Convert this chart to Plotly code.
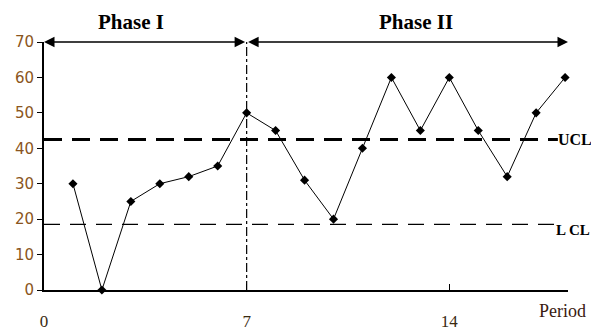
import plotly.graph_objects as go

periods = list(range(1, 19))
values = [30, 0, 25, 30, 32, 35, 50, 45, 31, 20, 40, 60, 45, 60, 45, 32, 50, 60]
ucl = 42.5
lcl = 18.5
phase_split = 7
x_end = 18.1
y_top = 70
y_ticks = [0, 10, 20, 30, 40, 50, 60, 70]
x_ticks = [0, 7, 14]
phase_labels = ["Phase I", "Phase II"]
phase_label_x = [3.0, 12.85]

# page has 8px body margin; figure is sized to fit the 599x330 window
W, H = 591, 322
L, R, T, B = 36, 31, 34, 40

fig = go.Figure()

fig.add_trace(go.Scatter(x=[0, 17.75], y=[ucl, ucl], mode="lines",
                         line=dict(color="black", width=3, dash="18px,10px"),
                         hoverinfo="skip", showlegend=False))
fig.add_trace(go.Scatter(x=[0, 17.8], y=[lcl, lcl], mode="lines",
                         line=dict(color="black", width=1.2, dash="16px,10px"),
                         hoverinfo="skip", showlegend=False))
fig.add_trace(go.Scatter(x=[phase_split, phase_split], y=[0, 77], mode="lines",
                         line=dict(color="black", width=1.2, dash="dashdot"),
                         hoverinfo="skip", showlegend=False, cliponaxis=False))
fig.add_trace(go.Scatter(x=periods, y=values, mode="lines+markers",
                         line=dict(color="black", width=1),
                         marker=dict(symbol="diamond", size=7, color="black"),
                         showlegend=False, cliponaxis=False))

serif = "Liberation Serif"
pw, ph = W - L - R, H - T - B
annotations = [
    dict(x=0, y=y_top, ax=phase_split, ay=y_top, xref="x", yref="y", axref="x", ayref="y",
         showarrow=True, arrowhead=2, arrowside="end+start", arrowsize=1.4, arrowwidth=1.5,
         arrowcolor="black", text=""),
    dict(x=x_end, y=y_top, ax=phase_split, ay=y_top, xref="x", yref="y", axref="x", ayref="y",
         showarrow=True, arrowhead=2, arrowside="end+start", arrowsize=1.4, arrowwidth=1.5,
         arrowcolor="black", text=""),
    dict(x=phase_label_x[0], y=y_top, xref="x", yref="y", yshift=20, text=f"<b>{phase_labels[0]}</b>",
         showarrow=False, font=dict(family=serif, size=21, color="black")),
    dict(x=phase_label_x[1], y=y_top, xref="x", yref="y", yshift=20, text=f"<b>{phase_labels[1]}</b>",
         showarrow=False, font=dict(family=serif, size=21, color="black")),
    dict(x=17.75, y=ucl, xref="x", yref="y", xanchor="left", xshift=-2, text="<b>UCL</b>",
         showarrow=False, font=dict(family=serif, size=16, color="black")),
    dict(x=17.8, y=lcl, xref="x", yref="y", xanchor="left", xshift=-5, yshift=-6, text="<b>L CL</b>",
         showarrow=False, font=dict(family=serif, size=15, color="black")),
    dict(x=(562 - 44) / pw, y=-(311 - 290) / ph, xref="paper", yref="paper",
         xanchor="center", yanchor="middle",
         text="Period", showarrow=False, font=dict(family=serif, size=18, color="#3a1a10")),
]

fig.update_layout(
    width=W, height=H,
    margin=dict(l=L, r=R, t=T, b=B, autoexpand=False),
    plot_bgcolor="white", paper_bgcolor="white",
    annotations=annotations,
    xaxis=dict(range=[0, x_end], tickvals=x_ticks, ticktext=[str(t) for t in x_ticks],
               showgrid=False, zeroline=False, showline=True, linecolor="black", linewidth=1.5,
               ticks="inside", ticklen=6, tickcolor="black", automargin=False,
               ticklabelstandoff=15,
               tickfont=dict(family=serif, size=17, color="#3a2a10")),
    yaxis=dict(range=[0, y_top], tickvals=y_ticks, showgrid=False, zeroline=False,
               showline=True, linecolor="black", linewidth=1.8, automargin=False,
               ticks="outside", ticklen=5, tickcolor="black",
               tickfont=dict(family="DejaVu Sans", size=15, color="#8a5520")),
)

fig.write_html("out.html")
